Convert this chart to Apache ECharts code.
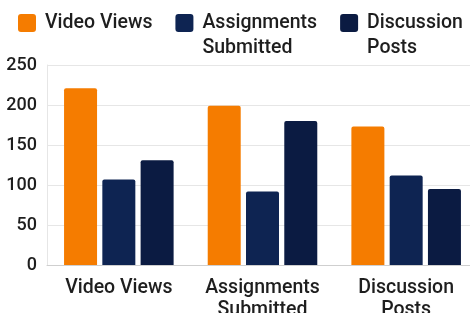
<!DOCTYPE html>
<html>
<head>
<meta charset="utf-8">
<script src="https://cdn.jsdelivr.net/npm/echarts@6/dist/echarts.min.js"></script>
<style>
  html, body { margin: 0; padding: 0; background: #fff; }
  #chart { width: 470px; height: 313px; }
</style>
</head>
<body>
<div id="chart"></div>
<script>
// categories on the x axis
const categories = ['Video Views', 'Assignments\nSubmitted', 'Discussion\nPosts'];
// series names (legend)
const seriesNames = ['Video Views', 'Assignments\nSubmitted', 'Discussion\nPosts'];
// values per series, one per category
const videoViews = [221, 199, 173];
const assignmentsSubmitted = [107, 92, 112];
const discussionPosts = [131, 180, 95];
// y axis ticks
const yMin = 0, yMax = 250, yStep = 50;

const colors = ['#F57C00', '#0E2452', '#0B1B42'];

const chart = echarts.init(document.getElementById('chart'));

const font = 'Roboto, "Noto Sans", sans-serif';

// rounded square at the top of a taller box, so the two-line text is
// centred lower and its first line sits beside the square
const legendIcon = 'path://M3,0h12a3,3 0 0 1 3,3v12a3,3 0 0 1 -3,3h-12a3,3 0 0 1 -3,-3v-12a3,3 0 0 1 3,-3z M0,43L0,43';

const option = {
    animation: false,
    color: colors,
    legend: {
        left: 18,
        top: 10.5,
        width: 452,
        padding: 0,
        itemWidth: 18,
        itemHeight: 43,
        itemGap: 23,
        icon: legendIcon,
        formatter: function (name) {
            return name.indexOf('\n') < 0 ? name + '\n ' : name;
        },
        textStyle: {
            fontFamily: font,
            fontSize: 19.5,
            fontWeight: 500,
            color: '#1e1e1e',
            lineHeight: 25,
            padding: [0, 0, 0, 4]
        },
        data: seriesNames
    },
    grid: {
        left: 47,
        top: 65,
        bottom: 48,
        width: 431,
        outerBoundsMode: 'none',
        containLabel: false
    },
    xAxis: {
        type: 'category',
        data: categories,
        axisTick: { show: false },
        axisLine: { lineStyle: { color: '#cfcfcf' } },
        axisLabel: {
            fontFamily: font,
            fontSize: 19.5,
            fontWeight: 500,
            color: '#1e1e1e',
            lineHeight: 22,
            margin: 12,
            interval: 0
        }
    },
    yAxis: {
        type: 'value',
        min: yMin,
        max: yMax,
        interval: yStep,
        axisLine: { show: true, lineStyle: { color: '#e6e6e6' } },
        axisTick: { show: false },
        splitLine: { lineStyle: { color: '#e6e6e6' } },
        axisLabel: {
            fontFamily: font,
            fontSize: 18,
            fontWeight: 500,
            color: '#1e1e1e',
            margin: 10
        }
    },
    series: [
        {
            name: seriesNames[0],
            type: 'bar',
            data: videoViews,
            barWidth: 33,
            barGap: '16%',
            itemStyle: { borderRadius: [2, 2, 0, 0] }
        },
        {
            name: seriesNames[1],
            type: 'bar',
            data: assignmentsSubmitted,
            barWidth: 33,
            barGap: '16%',
            itemStyle: { borderRadius: [2, 2, 0, 0] }
        },
        {
            name: seriesNames[2],
            type: 'bar',
            data: discussionPosts,
            barWidth: 33,
            barGap: '16%',
            itemStyle: { borderRadius: [2, 2, 0, 0] }
        }
    ]
};

chart.setOption(option);
</script>
</body>
</html>
